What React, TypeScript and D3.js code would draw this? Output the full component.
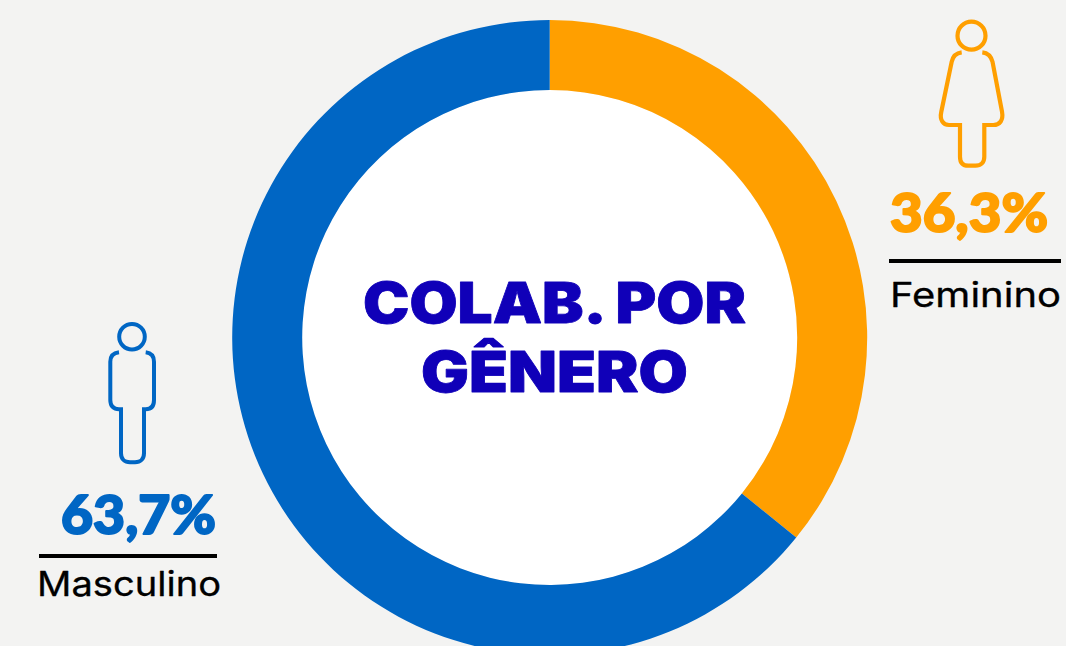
import React from "react";
import * as d3 from "d3";

const categories = ["Feminino", "Masculino"];
const sliceValues = [35.85, 64.15];
const percentLabels = ["36,3%", "63,7%"];
const sliceColors = ["#ff9f00", "#0066c4"];
const titleLines = ["COLAB. POR", "GÊNERO"];

const W = 1066;
const H = 646;
const BG = "#f3f3f2";
const CX = 549.7;
const CY = 337.5;
const R = 317.5;
const r0 = 247.5;

const femalePath =
  "M961.7 52.3 C956 53 953 56 951.7 61.7 L941.3 111.7 C939.5 120 943 125 949 125 L960 125 L960 156.7 C960 162.5 963 165.7 968.3 165.7 L975.5 165.7 C981 165.7 984.3 162.5 984.3 156.7 L984.3 125 L993.3 125 C1000 125 1003.5 120 1002 111.7 L992.5 61.7 C991 56 988 53 982.3 52.3";
const malePath =
  "M119 352.3 C113.5 353 110.3 356 110.3 361.7 L110.3 400 C110.3 406 113.5 409.3 119 409.3 L121 409.3 L121 453.3 C121 459 124.5 462.3 130 462.3 L135 462.3 C140.5 462.3 144 459 144 453.3 L144 409.3 L145.7 409.3 C151 409.3 154 406 154 400 L154 361.7 C154 356 151 353 145.7 352.3";

export default function App() {
  const pie = d3.pie<number>().sort(null).startAngle(0).endAngle(2 * Math.PI);
  const arc = d3.arc<d3.PieArcDatum<number>>().innerRadius(r0).outerRadius(R);
  const arcs = pie(sliceValues);
  const numFont = "Lato, Inter, sans-serif";
  const titleFont = "Inter, Lato, sans-serif";
  const labelFont = "Inter, 'Noto Sans', sans-serif";
  const heavy = (color: string, w: number) => ({ stroke: color, strokeWidth: w, strokeLinejoin: "round" as const });
  return (
    <svg
      width={W}
      height={H}
      viewBox={`0 0 ${W} ${H}`}
      style={{ position: "fixed", left: 0, top: 0, display: "block", background: BG }}
    >
      <rect width={W} height={H} fill={BG} />
      <circle cx={CX} cy={CY} r={r0} fill="#ffffff" />
      <g transform={`translate(${CX},${CY})`}>
        {arcs.map((a, i) => (
          <path key={categories[i]} d={arc(a) ?? ""} fill={sliceColors[i]} />
        ))}
      </g>
      <text x={554.5} y={323} textAnchor="middle" fontFamily={titleFont} fontWeight={900} fontSize={56} fill="#1000b8" textLength={383} lengthAdjust="spacingAndGlyphs" {...heavy("#1000b8", 0.8)}>{titleLines[0]}</text>
      <text x={554.5} y={392} textAnchor="middle" fontFamily={titleFont} fontWeight={900} fontSize={56} fill="#1000b8" textLength={267} lengthAdjust="spacingAndGlyphs" {...heavy("#1000b8", 0.8)}>{titleLines[1]}</text>

      <g fill="none" stroke={sliceColors[0]} strokeWidth={4.2}>
        <circle cx={971.5} cy={35.7} r={14} />
        <path d={femalePath} />
      </g>
      <text x={890} y={232} fontFamily={numFont} fontWeight={900} fontSize={54} fill={sliceColors[0]} textLength={158} lengthAdjust="spacingAndGlyphs" {...heavy(sliceColors[0], 2)}>{percentLabels[0]}</text>
      <rect x={889} y={259} width={172} height={4} fill="#000" />
      <text x={890} y={307} fontFamily={labelFont} fontWeight={400} fontSize={34} fill="#000" textLength={171} lengthAdjust="spacingAndGlyphs" {...heavy("#000", 0.3)}>{categories[0]}</text>

      <g fill="none" stroke={sliceColors[1]} strokeWidth={4}>
        <circle cx={132} cy={336.7} r={12.8} />
        <path d={malePath} />
      </g>
      <text x={61} y={534} fontFamily={numFont} fontWeight={900} fontSize={54} fill={sliceColors[1]} textLength={155} lengthAdjust="spacingAndGlyphs" {...heavy(sliceColors[1], 2)}>{percentLabels[1]}</text>
      <rect x={39} y={554} width={178} height={4} fill="#000" />
      <text x={37} y={596} fontFamily={labelFont} fontWeight={400} fontSize={34} fill="#000" textLength={184} lengthAdjust="spacingAndGlyphs" {...heavy("#000", 0.3)}>{categories[1]}</text>
    </svg>
  );
}
